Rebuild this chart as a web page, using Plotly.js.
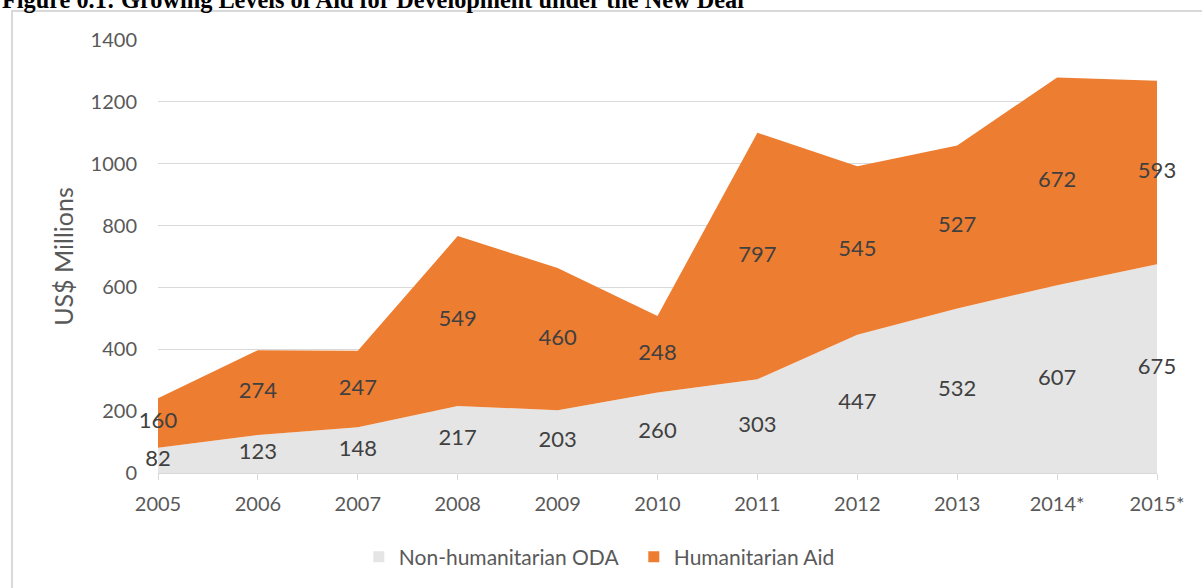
<!DOCTYPE html>
<html>
<head>
<meta charset="utf-8">
<script src="https://cdn.plot.ly/plotly-3.0.1.min.js"></script>
<style>
  html, body { margin: 0; padding: 0; background: #ffffff; }
  #chart { width: 1202px; height: 588px; }
</style>
</head>
<body>
<div id="chart"></div>
<script>
// ---- data ----
const years = ["2005", "2006", "2007", "2008", "2009", "2010", "2011", "2012", "2013", "2014*", "2015*"];
const nonHumanitarianODA = [82, 123, 148, 217, 203, 260, 303, 447, 532, 607, 675];
const humanitarianAid = [160, 274, 247, 549, 460, 248, 797, 545, 527, 672, 593];
const seriesNames = ["Non-humanitarian ODA", "Humanitarian Aid"];
const chartTitle = "Figure 0.1: Growing Levels of Aid for Development under the New Deal";
const yTitle = "US$ Millions";
const yTicks = [0, 200, 400, 600, 800, 1000, 1200, 1400];

// ---- derived ----
const xs = years.map((_, i) => i);
const totals = nonHumanitarianODA.map((v, i) => v + humanitarianAid[i]);
const midNon = nonHumanitarianODA.map(v => v / 2);
const midHum = nonHumanitarianODA.map((v, i) => v + humanitarianAid[i] / 2);

const grey = "#e5e5e5";
const orange = "#ed7d31";
const labelFont = { family: "Lato, 'Open Sans', sans-serif", size: 22, color: "#404040" };

const traces = [
  { x: xs, y: nonHumanitarianODA, type: "scatter", mode: "none", fill: "tozeroy",
    fillcolor: grey, line: { width: 0 }, showlegend: false, hoverinfo: "skip" },
  { x: xs, y: totals, type: "scatter", mode: "none", fill: "tonexty",
    fillcolor: orange, line: { width: 0 }, showlegend: false, hoverinfo: "skip" },
  { x: xs, y: midNon, type: "scatter", mode: "text", text: nonHumanitarianODA.map(String),
    textposition: "middle center", textfont: labelFont, cliponaxis: false,
    showlegend: false, hoverinfo: "skip" },
  { x: xs, y: midHum, type: "scatter", mode: "text", text: humanitarianAid.map(String),
    textposition: "middle center", textfont: labelFont, cliponaxis: false,
    showlegend: false, hoverinfo: "skip" },
  { x: [null], y: [null], type: "scatter", mode: "markers", name: seriesNames[0],
    marker: { symbol: "square", size: 11, color: grey } },
  { x: [null], y: [null], type: "scatter", mode: "markers", name: seriesNames[1],
    marker: { symbol: "square", size: 11, color: orange } }
];

const layout = {
  width: 1202, height: 588,
  margin: { l: 158, r: 45, t: 40, b: 115, autoexpand: false },
  paper_bgcolor: "#ffffff", plot_bgcolor: "#ffffff",
  font: { family: "Lato, 'Open Sans', sans-serif", color: "#595959", size: 20 },
  xaxis: {
    range: [0, xs.length - 1], tickmode: "array", tickvals: xs, ticktext: years,
    showgrid: false, zeroline: false, showline: true, linecolor: "#d9d9d9", linewidth: 1,
    ticks: "outside", ticklen: 6, tickcolor: "#d9d9d9", tickwidth: 1,
    ticklabelstandoff: 7, tickfont: { size: 20, color: "#595959" }, fixedrange: true,
    automargin: false
  },
  yaxis: {
    range: [0, 1400], tickmode: "array", tickvals: yTicks,
    showgrid: true, gridcolor: "#d9d9d9", gridwidth: 1, zeroline: false, showline: false,
    ticks: "", ticklabelstandoff: 20, tickfont: { size: 20, color: "#595959" },
    title: { text: yTitle, font: { size: 25, color: "#595959" }, standoff: 9 },
    fixedrange: true, automargin: false
  },
  showlegend: true,
  legend: {
    orientation: "h", x: 0.201, xanchor: "left", y: -0.194, yanchor: "middle",
    font: { size: 21, color: "#595959" }, traceorder: "normal",
    entrywidth: 230, entrywidthmode: "pixels", bgcolor: "rgba(0,0,0,0)"
  },
  shapes: [
    { type: "rect", xref: "paper", yref: "paper", x0: -0.1461, x1: 1.2, y0: -0.5, y1: 1.067,
      line: { color: "#d9d9d9", width: 2 }, fillcolor: "rgba(0,0,0,0)", layer: "below" }
  ],
  annotations: [
    { text: "<b>" + chartTitle + "</b>", xref: "paper", yref: "paper", x: -0.158, y: 1.058,
      xanchor: "left", yanchor: "bottom", showarrow: false, align: "left",
      font: { family: "'Liberation Serif', 'Times New Roman', serif", size: 24.3, color: "#000000" } }
  ]
};

Plotly.newPlot("chart", traces, layout, { displayModeBar: false, staticPlot: true });
</script>
</body>
</html>
